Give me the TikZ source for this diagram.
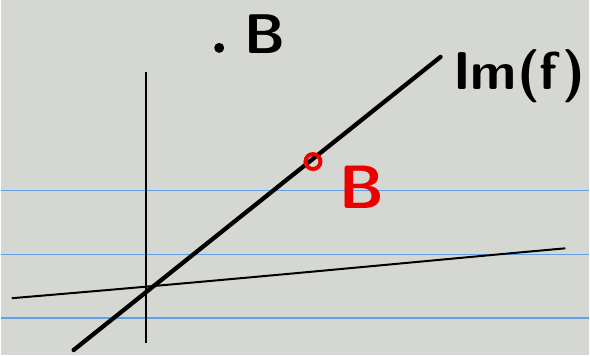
\documentclass[tikz,border=0pt]{standalone}
\definecolor{paper}{RGB}{213,216,210}
\definecolor{ruleblue}{RGB}{96,160,228}
\definecolor{inkred}{RGB}{236,0,0}
\tikzset{
  ruled/.style={color=ruleblue, line width=1.2pt},
  axisline/.style={line width=1.5pt},
  imline/.style={line width=3.2pt, line cap=round},
  lbl/.style={inner sep=0pt, font=\sffamily},
}
\begin{document}
\begin{tikzpicture}[x=0.75pt,y=0.75pt,yscale=-1,xscale=1]
%set diagram left start at 0, and has height of 356
\fill[paper] (0,0) rectangle (590,356);

%Ruled lines of the paper
\foreach \y in {191,255,319}
  \draw[ruled] (0,\y) -- (590,\y);

%Straight Lines [vertical axis]
\coordinate (vtop) at (146,72);
\coordinate (vbot) at (146,344);
\draw[axisline] (vtop) -- (vbot);
%Straight Lines [flat line]
\coordinate (hleft) at (11,299);
\coordinate (hright) at (566,249);
\draw[axisline] (hleft) .. controls (250,279) and (420,262) .. (hright);
%Straight Lines [image line]
\coordinate (imlow) at (73,351);
\coordinate (imhigh) at (441,57);
\draw[imline] (imlow) -- (imhigh);

%Shape: Circle [point on the line]
\draw[inkred, line width=3pt] (313,162) circle [radius=7.5];
%Shape: Circle [point off the line]
\fill (219,48) circle [radius=5];

% Text Node
\node[lbl, font=\sffamily\bfseries\fontsize{42}{42}\selectfont] (bblack) at (265,34) {B};
% Text Node
\node[lbl, text=inkred, font=\sffamily\bfseries\fontsize{46}{46}\selectfont] (bred) at (362,188) {B};
% Text Node
\node[lbl, font=\sffamily\bfseries\fontsize{40}{40}\selectfont] (imf) at (520,76) {Im(f)};
\end{tikzpicture}
\end{document}
